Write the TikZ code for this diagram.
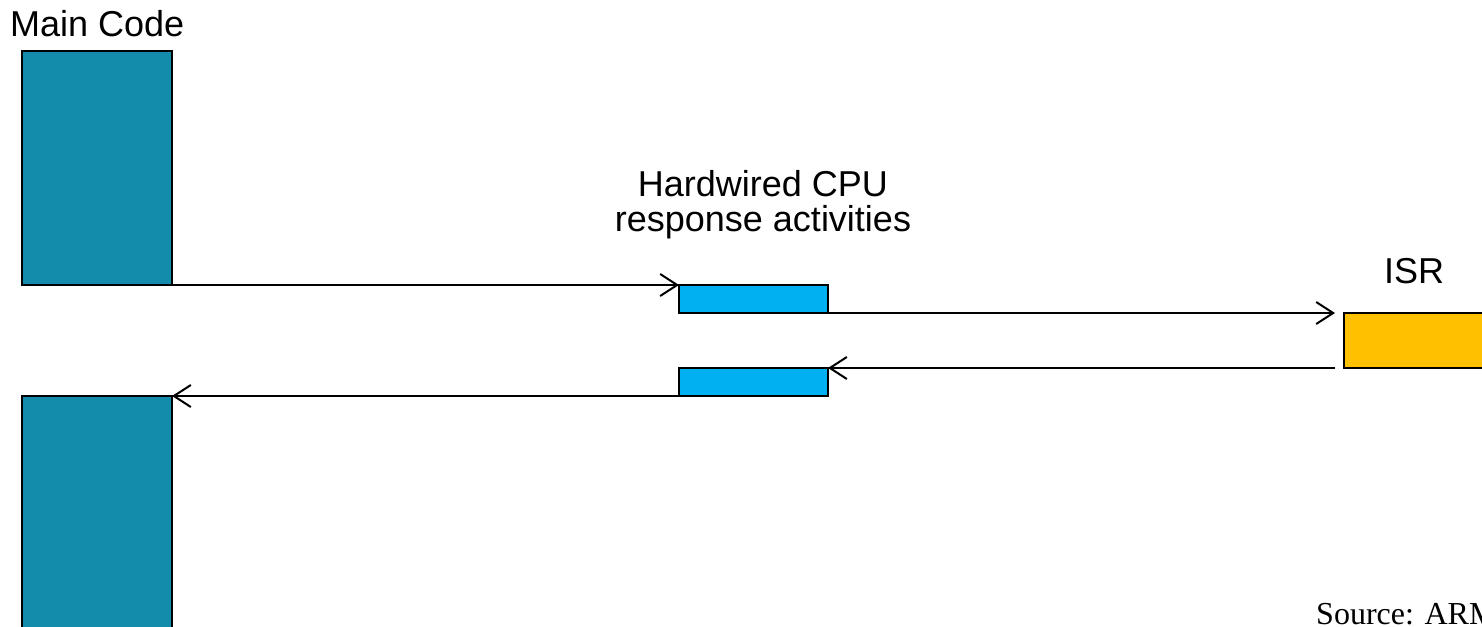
\documentclass[tikz,border=0pt]{standalone}
\usepackage{fontspec}
\setmainfont{Liberation Sans}
\newfontfamily\serifsrc{Liberation Serif}
\usetikzlibrary{arrows.meta}
\definecolor{maincode}{HTML}{138BAB}
\definecolor{hwblue}{HTML}{00B0F0}
\definecolor{isrgold}{HTML}{FFC000}
\tikzset{
  block/.style={draw=black, line width=2pt, inner sep=0pt, outer sep=0pt},
  mainblock/.style={block, fill=maincode, minimum width=150pt, minimum height=234pt},
  hwblock/.style={block, fill=hwblue, minimum width=149pt, minimum height=28pt},
  isrblock/.style={block, fill=isrgold, minimum width=150pt, minimum height=55pt},
  flow/.style={line width=1.6pt, -{Straight Barb[length=17pt,width=22pt,line width=2pt]}},
  lbl/.style={inner sep=0pt, font=\fontsize{36}{35}\selectfont}
}
\begin{document}
\begin{tikzpicture}[x=1pt,y=-1pt]
\useasboundingbox (0,0) rectangle (1482,626);
\clip (0,0) rectangle (1482,626);

% labels
\node[lbl, anchor=base west] (mclabel) at (10,37) {Main Code};
\node[lbl, anchor=base, align=center] (hwlabel) at (763,231) {Hardwired CPU\\response activities};
\node[lbl, anchor=base] (isrlabel) at (1414,283) {ISR};
\node[inner sep=0pt, anchor=base west, font=\serifsrc\fontsize{32}{32}\selectfont] (src) at (1316,624) {Source: ARM};

% execution blocks
\node[mainblock, anchor=north west] (mc1) at (22,51) {};
\node[mainblock, anchor=north west, minimum height=260pt] (mc2) at (22,396) {};
\node[hwblock, anchor=north west] (hw1) at (679,285) {};
\node[hwblock, anchor=north west] (hw2) at (679,368) {};
\node[isrblock, anchor=north west] (isr) at (1344,313) {};

% flow of control
\draw[flow] (mc1.south east) -- (hw1.north west);
\draw[flow, shorten >=9pt] (hw1.south east) -- (isr.north west);
\draw[flow, shorten <=9pt] (isr.south west) -- (hw2.north east);
\draw[flow] (hw2.south west) -- (mc2.north east);
\end{tikzpicture}
\end{document}
